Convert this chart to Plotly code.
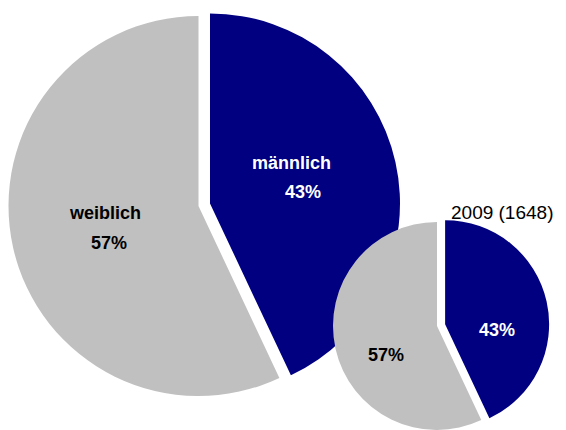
import math
import plotly.graph_objects as go

# ---- data ----
labels = ["männlich", "weiblich"]
big_values = [43, 57]
small_values = [43, 57]
small_title = "2009 (1648)"
slice_colors = ["#000080", "#C0C0C0"]
label_colors = ["#FFFFFF", "#000000"]

# ---- layout helpers ----
# the page body has an 8px margin, so the figure is drawn at (8, 8)
OFF = 8
W, H = 566 - OFF, 430 - OFF
TRANSPARENT = "rgba(0,0,0,0)"
FONT = "Liberation Sans, Arial, sans-serif"


def px(x):
    return (x - OFF) / W


def py(y):
    return (H - (y - OFF)) / H


def domain(cx, cy, r):
    cx, cy = cx - OFF, cy - OFF
    return dict(x=[max(0, (cx - r) / W), min(1, (cx + r) / W)],
                y=[max(0, (H - cy - r) / H), min(1, (H - cy + r) / H)])


def exploded_center(values, cx, cy, r, pull):
    # slice 0 starts at 12 o'clock and runs clockwise; shift it along its mid angle
    frac = values[0] / sum(values)
    mid = math.radians(360 * frac / 2)
    d = pull * r
    return cx + d * math.sin(mid), cy - d * math.cos(mid)


def pie_pair(values, cx, cy, r, pull):
    traces = []
    ecx, ecy = exploded_center(values, cx, cy, r, pull)
    centers = [(ecx, ecy), (cx, cy)]
    for k in range(len(values)):
        colors = [slice_colors[i] if i == k else TRANSPARENT for i in range(len(values))]
        traces.append(go.Pie(
            labels=labels,
            values=values,
            sort=False,
            direction="clockwise",
            rotation=0,
            marker=dict(colors=colors, line=dict(width=0)),
            textinfo="none",
            hoverinfo="skip",
            domain=domain(centers[k][0], centers[k][1], r),
            showlegend=False,
        ))
    return traces


def pct(values, i):
    return f"{round(100 * values[i] / sum(values))}%"


fig = go.Figure()
for t in pie_pair(big_values, 198.5, 206, 190, 0.062):
    fig.add_trace(t)
for t in pie_pair(small_values, 437, 326, 104, 0.08):
    fig.add_trace(t)


def label(text, x, y, color, bold=True, size=18, anchor="center"):
    fig.add_annotation(
        text=f"<b>{text}</b>" if bold else text,
        x=px(x), y=py(y), xref="paper", yref="paper",
        xanchor=anchor, yanchor="middle", showarrow=False,
        font=dict(family=FONT, size=size, color=color),
    )


# big pie labels (name + percent)
label(labels[0], 291, 163, label_colors[0])
label(pct(big_values, 0), 303, 192, label_colors[0])
label(labels[1], 105, 213, label_colors[1])
label(pct(big_values, 1), 109, 243, label_colors[1])
# small pie labels (percent only)
label(pct(small_values, 0), 497, 330, label_colors[0])
label(pct(small_values, 1), 386, 355, label_colors[1])
# small pie title
label(small_title, 555, 212, "#000000", bold=False, size=19, anchor="right")

fig.update_layout(
    width=W, height=H,
    margin=dict(l=0, r=0, t=0, b=0),
    paper_bgcolor="white", plot_bgcolor="white",
    showlegend=False,
)

fig.write_html("out.html")
